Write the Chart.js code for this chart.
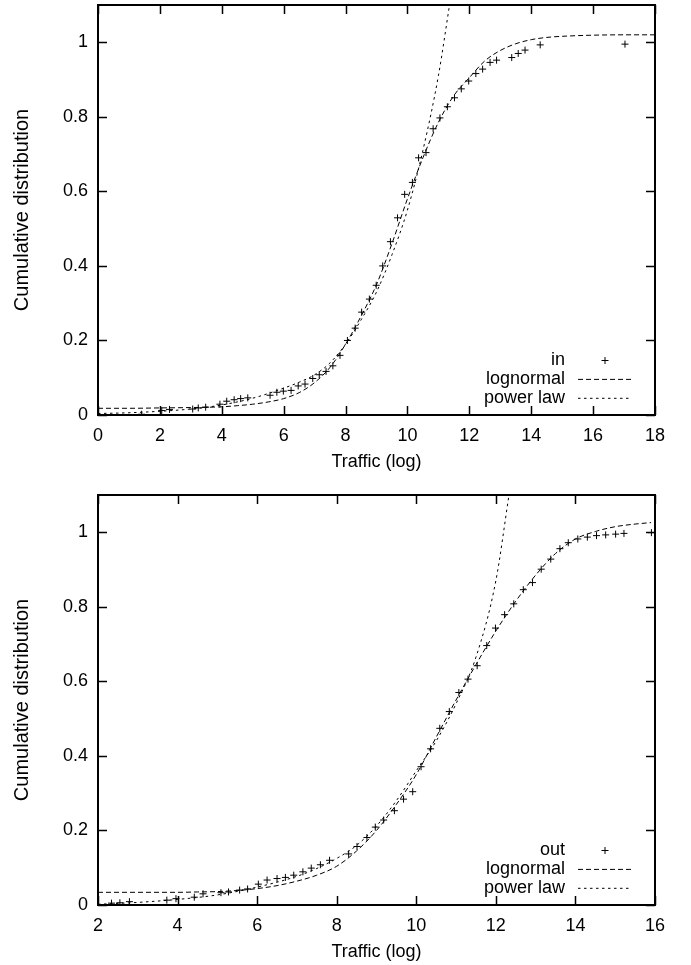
<!DOCTYPE html>
<html>
<head>
<meta charset="utf-8">
<script src="https://cdn.jsdelivr.net/npm/chart.js@4.4.1/dist/chart.umd.min.js"></script>
<style>
  html, body { margin: 0; padding: 0; background: #fff; overflow: hidden; }
  canvas { display: block; position: absolute; left: 0; }
  #chartIn { top: 0; }
  #chartOut { top: 480px; }
</style>
</head>
<body>
<canvas id="chartIn" width="691" height="480"></canvas>
<canvas id="chartOut" width="691" height="485"></canvas>
<script>
"use strict";

// ---- top panel: "in" ----
const inX = [1.41, 2.06, 2.31, 3.06, 3.24, 3.48, 3.94, 4.16, 4.40, 4.61, 4.84, 5.56, 5.78, 5.99, 6.24, 6.47, 6.69, 6.94, 7.15, 7.37, 7.59, 7.82, 8.06, 8.31, 8.52, 8.77, 8.99, 9.20, 9.45, 9.68, 9.91, 10.16, 10.36, 10.60, 10.83, 11.05, 11.29, 11.52, 11.74, 11.98, 12.21, 12.43, 12.67, 12.88, 13.37, 13.58, 13.80, 14.29, 17.03];
const inY = [0.002, 0.012, 0.015, 0.016, 0.019, 0.021, 0.029, 0.037, 0.041, 0.044, 0.046, 0.053, 0.061, 0.064, 0.066, 0.078, 0.083, 0.098, 0.108, 0.117, 0.132, 0.160, 0.200, 0.233, 0.276, 0.311, 0.348, 0.400, 0.465, 0.529, 0.592, 0.624, 0.690, 0.704, 0.768, 0.797, 0.827, 0.851, 0.875, 0.896, 0.916, 0.928, 0.946, 0.952, 0.959, 0.970, 0.979, 0.993, 0.995];

const inLogX = [0, 1, 2, 3, 4, 4.5, 5, 5.5, 6, 6.5, 7, 7.5, 8, 8.5, 9, 9.5, 10, 10.5, 11, 11.5, 12, 12.5, 13, 13.5, 14, 14.5, 15, 16, 17, 18];
const inLogY = [0.018, 0.018, 0.019, 0.02, 0.022, 0.025, 0.029, 0.035, 0.044, 0.06, 0.087, 0.128, 0.19, 0.265, 0.35, 0.46, 0.58, 0.69, 0.785, 0.857, 0.905, 0.95, 0.978, 0.996, 1.007, 1.013, 1.016, 1.019, 1.02, 1.02];

const inPowX = [0, 1, 2, 3, 4, 5, 6, 6.5, 7, 7.5, 8, 8.5, 9, 9.5, 10, 10.5, 11, 11.36];
const inPowY = [0.004, 0.006, 0.01, 0.016, 0.027, 0.045, 0.072, 0.088, 0.108, 0.14, 0.19, 0.255, 0.33, 0.43, 0.55, 0.71, 0.91, 1.1];

const inXTicks = [0, 2, 4, 6, 8, 10, 12, 14, 16, 18];

// ---- bottom panel: "out" ----
const outX = [2.34, 2.55, 2.79, 3.73, 3.96, 4.42, 4.64, 5.09, 5.28, 5.56, 5.76, 6.03, 6.25, 6.50, 6.71, 6.92, 7.15, 7.36, 7.59, 7.82, 8.30, 8.51, 8.76, 8.97, 9.18, 9.45, 9.68, 9.91, 10.12, 10.36, 10.59, 10.83, 11.07, 11.30, 11.53, 11.77, 11.99, 12.22, 12.45, 12.69, 12.92, 13.14, 13.38, 13.61, 13.82, 14.06, 14.30, 14.53, 14.76, 15.01, 15.22, 15.91];
const outY = [0.005, 0.006, 0.009, 0.013, 0.017, 0.021, 0.030, 0.033, 0.035, 0.040, 0.043, 0.056, 0.067, 0.071, 0.074, 0.080, 0.089, 0.099, 0.108, 0.120, 0.137, 0.157, 0.181, 0.209, 0.228, 0.253, 0.284, 0.304, 0.371, 0.419, 0.474, 0.519, 0.570, 0.606, 0.642, 0.696, 0.743, 0.779, 0.808, 0.846, 0.865, 0.901, 0.928, 0.956, 0.972, 0.982, 0.987, 0.991, 0.993, 0.995, 0.997, 0.999];

const outLogX = [2, 3, 4, 4.5, 5, 5.5, 6, 6.5, 7, 7.5, 8, 8.5, 9, 9.5, 10, 10.5, 11, 11.5, 12, 12.5, 13, 13.5, 14, 14.5, 15, 15.5, 15.9];
const outLogY = [0.034, 0.034, 0.034, 0.035, 0.036, 0.039, 0.044, 0.052, 0.064, 0.08, 0.104, 0.145, 0.2, 0.27, 0.35, 0.45, 0.55, 0.645, 0.735, 0.815, 0.885, 0.943, 0.982, 1.002, 1.015, 1.022, 1.026];

const outPowX = [2, 3, 4, 5, 6, 7, 7.5, 8, 8.5, 9, 9.5, 10, 10.5, 11, 11.5, 12, 12.33];
const outPowY = [0.002, 0.007, 0.015, 0.027, 0.048, 0.077, 0.098, 0.125, 0.16, 0.212, 0.28, 0.36, 0.44, 0.54, 0.665, 0.87, 1.1];

const outXTicks = [2, 4, 6, 8, 10, 12, 14, 16];

const yTicks = [0, 0.2, 0.4, 0.6, 0.8, 1];

const FONT = "'Liberation Sans', Arial, Helvetica, sans-serif";
Chart.defaults.font.family = FONT;
Chart.defaults.color = '#000';

const zip = (xs, ys) => xs.map((x, i) => ({ x: x, y: ys[i] }));

// box round the plot with ticks pointing inwards on all four sides
const framePlugin = {
    id: 'frame',
    afterDatasetsDraw(chart) {
        const { ctx, chartArea: a, scales } = chart;
        const len = 9;
        ctx.save();
        ctx.strokeStyle = '#000';
        ctx.lineWidth = 1.5;
        ctx.beginPath();
        scales.x.ticks.forEach(t => {
            const px = Math.round(scales.x.getPixelForValue(t.value)) + 0.5;
            ctx.moveTo(px, a.bottom); ctx.lineTo(px, a.bottom - len);
            ctx.moveTo(px, a.top); ctx.lineTo(px, a.top + len);
        });
        scales.y.ticks.forEach(t => {
            const py = Math.round(scales.y.getPixelForValue(t.value)) + 0.5;
            ctx.moveTo(a.left, py); ctx.lineTo(a.left + len, py);
            ctx.moveTo(a.right, py); ctx.lineTo(a.right - len, py);
        });
        ctx.stroke();
        ctx.lineWidth = 2;
        ctx.strokeRect(a.left, a.top, a.right - a.left, a.bottom - a.top);
        ctx.restore();
    }
};

// gnuplot style key: text right aligned, sample to its right
const keyPlugin = {
    id: 'key',
    afterDraw(chart) {
        const { ctx, chartArea: a } = chart;
        ctx.save();
        ctx.font = '18px ' + FONT;
        ctx.textAlign = 'right';
        ctx.textBaseline = 'middle';
        ctx.fillStyle = '#000';
        chart.data.datasets.forEach((ds, i) => {
            const y = a.bottom - 55 + i * 18.9;
            ctx.fillText(ds.label, a.right - 90, y);
            ctx.strokeStyle = '#000';
            ctx.lineWidth = 1;
            ctx.beginPath();
            if (ds.showLine) {
                ctx.setLineDash(ds.borderDash);
                ctx.moveTo(a.right - 77, y + 0.5);
                ctx.lineTo(a.right - 23, y + 0.5);
            } else {
                ctx.setLineDash([]);
                ctx.moveTo(a.right - 53.5, y + 0.5);
                ctx.lineTo(a.right - 46.5, y + 0.5);
                ctx.moveTo(a.right - 50, y - 3);
                ctx.lineTo(a.right - 50, y + 4);
            }
            ctx.stroke();
        });
        ctx.restore();
    }
};

function makeChart(id, cfg) {
    return new Chart(document.getElementById(id), {
        type: 'scatter',
        data: {
            datasets: [{
                label: cfg.name,
                data: zip(cfg.x, cfg.y),
                pointStyle: 'cross',
                pointRadius: 3.5,
                borderColor: '#000',
                borderWidth: 1,
                showLine: false
            }, {
                label: 'lognormal',
                data: zip(cfg.logX, cfg.logY),
                showLine: true,
                pointRadius: 0,
                borderColor: '#000',
                borderWidth: 1,
                borderDash: [5, 3],
                cubicInterpolationMode: 'monotone'
            }, {
                label: 'power law',
                data: zip(cfg.powX, cfg.powY),
                showLine: true,
                pointRadius: 0,
                borderColor: '#000',
                borderWidth: 1,
                borderDash: [2.5, 3.5],
                cubicInterpolationMode: 'monotone'
            }]
        },
        options: {
            responsive: false,
            animation: false,
            devicePixelRatio: 1,
            layout: { padding: { top: cfg.padTop, right: 36, left: 0, bottom: 0 } },
            plugins: { legend: { display: false }, tooltip: { enabled: false } },
            scales: {
                x: {
                    type: 'linear',
                    min: cfg.xMin,
                    max: cfg.xMax,
                    afterBuildTicks: s => { s.ticks = cfg.xTicks.map(v => ({ value: v })); },
                    afterFit: s => { s.height = cfg.xAxisHeight; s.paddingLeft = 0; s.paddingRight = 0; },
                    grid: { display: false, drawTicks: false },
                    border: { display: false },
                    ticks: { padding: 10, font: { size: 18 }, color: '#000', callback: v => String(v) },
                    title: { display: true, text: 'Traffic (log)', font: { size: 18 }, color: '#000', padding: { top: 0, bottom: cfg.titlePad } }
                },
                y: {
                    type: 'linear',
                    min: 0,
                    max: 1.1,
                    afterBuildTicks: s => { s.ticks = yTicks.map(v => ({ value: v })); },
                    afterFit: s => { s.width = 98; s.paddingTop = 0; s.paddingBottom = 0; },
                    grid: { display: false, drawTicks: false },
                    border: { display: false },
                    ticks: { padding: 10, font: { size: 18 }, color: '#000', callback: v => String(v) },
                    title: { display: true, text: 'Cumulative distribution', font: { size: 20 }, color: '#000', padding: { top: 10, bottom: 0 } }
                }
            }
        },
        plugins: [framePlugin, keyPlugin]
    });
}

makeChart('chartIn', {
    name: 'in', x: inX, y: inY, logX: inLogX, logY: inLogY, powX: inPowX, powY: inPowY,
    xMin: 0, xMax: 18, xTicks: inXTicks, padTop: 5, xAxisHeight: 65, titlePad: 7
});

makeChart('chartOut', {
    name: 'out', x: outX, y: outY, logX: outLogX, logY: outLogY, powX: outPowX, powY: outPowY,
    xMin: 2, xMax: 16, xTicks: outXTicks, padTop: 15, xAxisHeight: 60, titlePad: 2.5
});
</script>
</body>
</html>
